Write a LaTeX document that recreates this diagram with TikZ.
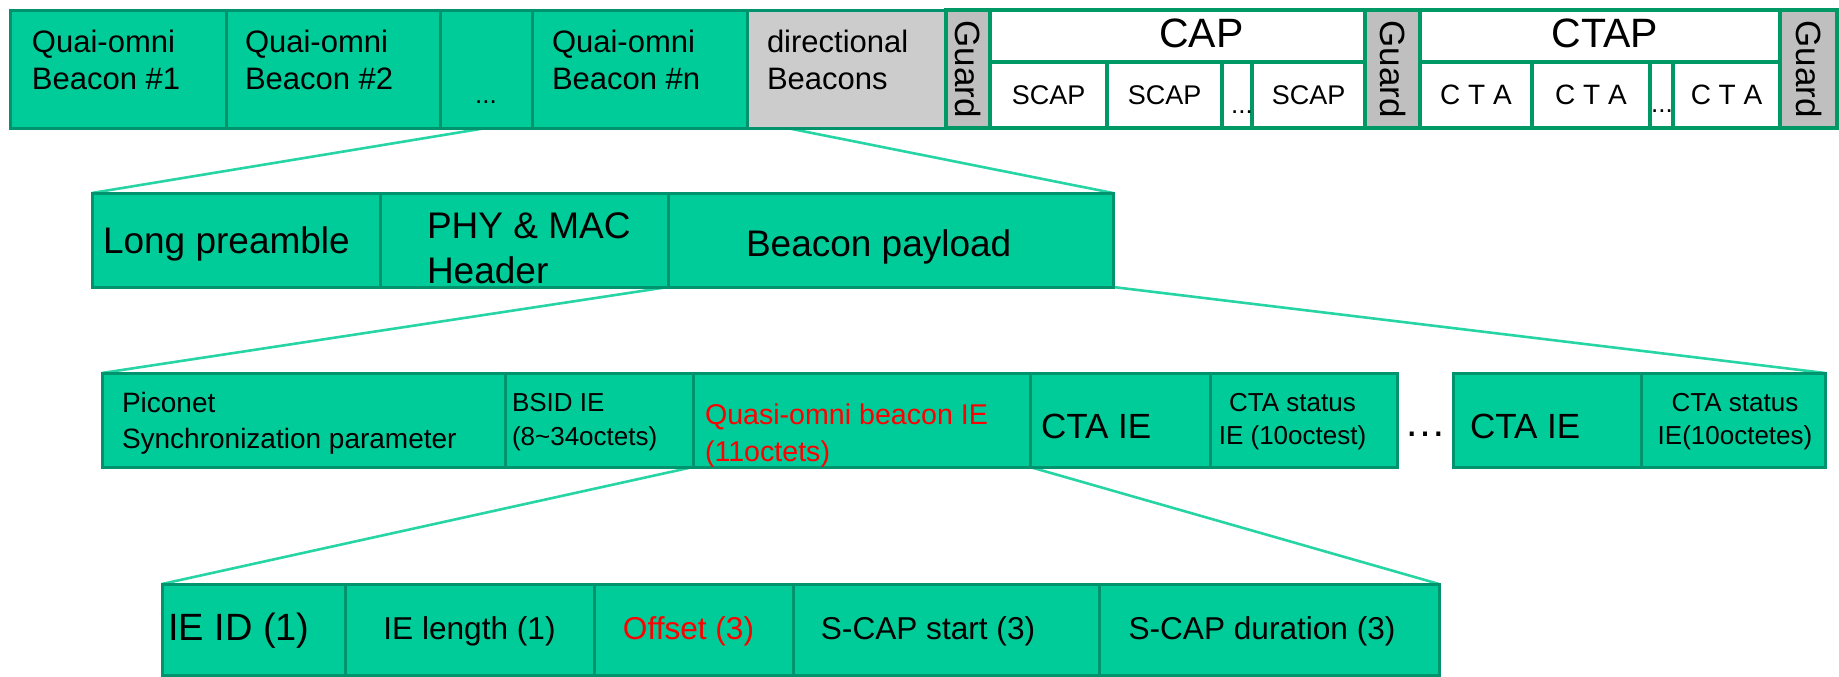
\documentclass[tikz,border=0pt]{standalone}
\usepackage{fontspec}
\setmainfont{Liberation Sans}
\usetikzlibrary{positioning}
\pgfdeclarelayer{background}
\pgfsetlayers{background,main}
\definecolor{boxgreen}{HTML}{00CC99}
\definecolor{edgegreen}{HTML}{00936E}
\definecolor{framegreen}{HTML}{009966}
\definecolor{linkgreen}{HTML}{26D4A4}
\definecolor{guardgrey}{HTML}{BFBFBF}
\definecolor{dirgrey}{HTML}{CCCCCC}
\newcommand{\setfs}[2]{\fontsize{#1}{#2}\selectfont}
\tikzset{
    cell/.style={draw=edgegreen, fill=boxgreen, line width=1.5pt, outer sep=0pt, inner sep=0pt},
    slot/.style={draw=framegreen, fill=white, line width=2pt, outer sep=0pt, inner sep=0pt},
    guardbox/.style={slot, fill=guardgrey, minimum width=#1, minimum height=59pt, font=\setfs{17.5}{20}},
    txt/.style={inner sep=0pt, outer sep=0pt, align=left},
    link/.style={draw=linkgreen, line width=1.3pt},
}

\begin{document}
\begin{tikzpicture}[x=0.5pt, y=-0.5pt]
    \useasboundingbox (0,0) rectangle (1839,676);
    \tikzset{
      top/.style={cell, minimum height=59pt},
      mid/.style={cell, minimum height=47pt},
      low/.style={cell, minimum height=45.5pt}
    }

    % superframe
    \node[top, anchor=north west, minimum width=108pt] (q1) at (10,10) {};
    \node[top, minimum width=107pt, right=0pt of q1] (q2) {};
    \node[top, minimum width=46pt, right=0pt of q2] (qd) {};
    \node[top, minimum width=107.5pt, right=0pt of qd] (qn) {};
    \node[top, fill=dirgrey, minimum width=99.5pt, right=0pt of qn] (dir) {};
    \node[txt, font=\setfs{15.5}{18.5}, anchor=north west] (q1t) at ([shift={(22,20)}]q1.north west) {Quai-omni\\Beacon \#1};
    \node[txt, font=\setfs{15.5}{18.5}, anchor=north west] (q2t) at ([shift={(19,20)}]q2.north west) {Quai-omni\\Beacon \#2};
    \node[txt, font=\setfs{13}{15}, anchor=base] (qdt) at ([shift={(0,-25)}]qd.south) {...};
    \node[txt, font=\setfs{15.5}{18.5}, anchor=north west] (qnt) at ([shift={(20,20)}]qn.north west) {Quai-omni\\Beacon \#n};
    \node[txt, font=\setfs{15.5}{18.5}, anchor=north west] (dirt) at ([shift={(20,20)}]dir.north west) {directional\\Beacons};

    \node[guardbox=22pt, right=0pt of dir] (g1) {\rotatebox{-90}{Guard}};
    \node[slot, anchor=north west, minimum width=187.5pt, minimum height=26pt] (capbox) at (g1.north east) {};
    \node[txt, font=\setfs{20.5}{24}, anchor=base] (capt) at ([shift={(24,11)}]capbox.center) {CAP};
    \node[slot, anchor=north west, minimum width=58.5pt, minimum height=33pt, font=\setfs{13.5}{16}] (s1) at (capbox.south west) {SCAP};
    \node[slot, minimum width=57.5pt, minimum height=33pt, font=\setfs{13.5}{16}, right=0pt of s1] (s2) {SCAP};
    \node[slot, minimum width=56.5pt, minimum height=33pt, font=\setfs{13.5}{16}, right=15pt of s2] (s3) {SCAP};
    \node[txt, font=\setfs{13}{15}, anchor=base] (sdots) at ([shift={(20,-15)}]s2.south east) {...};

    \node[guardbox=27.5pt, anchor=north west] (g2) at (capbox.north east) {\rotatebox{-90}{Guard}};
    \node[slot, anchor=north west, minimum width=180pt, minimum height=26pt] (ctapbox) at (g2.north east) {};
    \node[txt, font=\setfs{20.5}{24}, anchor=base] (ctapt) at ([shift={(5,11)}]ctapbox.center) {CTAP};
    \node[slot, anchor=north west, minimum width=56pt, minimum height=33pt, font=\setfs{14}{16}] (c1) at (ctapbox.south west) {C T A};
    \node[slot, minimum width=59pt, minimum height=33pt, font=\setfs{14}{16}, right=0pt of c1] (c2) {C T A};
    \node[slot, minimum width=53.5pt, minimum height=33pt, font=\setfs{14}{16}, right=11.5pt of c2] (c3) {C T A};
    \node[txt, font=\setfs{13}{15}, anchor=base] (cdots) at ([shift={(12,-16)}]c2.south east) {...};
    \node[guardbox=28.5pt, anchor=north west] (g3) at (ctapbox.north east) {\rotatebox{-90}{Guard}};
    \draw[draw=framegreen, line width=2pt] (g1.north west) rectangle (g3.south east);

    % beacon frame
    \node[mid, anchor=north west, minimum width=144pt] (lp) at (92,193) {};
    \node[mid, minimum width=144pt, right=0pt of lp] (hdr) {};
    \node[mid, minimum width=222.5pt, right=0pt of hdr] (pay) {};
    \node[txt, font=\setfs{18.5}{22.5}, anchor=base west] (lpt) at ([shift={(11,13)}]lp.west) {Long preamble};
    \node[txt, font=\setfs{18.5}{22.5}, anchor=north west] (hdrt) at ([shift={(47,20)}]hdr.north west) {PHY \& MAC\\Header};
    \node[txt, font=\setfs{18.5}{22.5}, anchor=base west] (payt) at ([shift={(78,16)}]pay.west) {Beacon payload};

    % beacon payload
    \node[mid, anchor=north west, minimum width=201.5pt] (p1) at (102,373) {};
    \node[mid, minimum width=94pt, right=0pt of p1] (bs) {};
    \node[mid, minimum width=168.5pt, right=0pt of bs] (qo) {};
    \node[mid, minimum width=90pt, right=0pt of qo] (cta1) {};
    \node[mid, minimum width=93.5pt, right=0pt of cta1] (cs1) {};
    \node[mid, minimum width=94pt, right=28pt of cs1] (cta2) {};
    \node[mid, minimum width=92pt, right=0pt of cta2] (cs2) {};
    \node[txt, font=\setfs{14}{18}, anchor=north west] (p1t) at ([shift={(20,19)}]p1.north west) {Piconet\\Synchronization parameter};
    \node[txt, font=\setfs{13}{17}, anchor=north west] (bst) at ([shift={(7,20)}]bs.north west) {BSID IE\\(8\textasciitilde34octets)};
    \node[txt, font=\setfs{14.3}{18.5}, text=red, anchor=north west] (qot) at ([shift={(12,31)}]qo.north west) {Quasi-omni beacon IE\\(11octets)};
    \node[txt, font=\setfs{17.5}{21}, anchor=base west] (cta1t) at ([shift={(11,18)}]cta1.west) {CTA IE};
    \node[txt, font=\setfs{13}{16.5}, align=center, anchor=north] (cs1t) at ([shift={(-11,20)}]cs1.north) {CTA status\\IE (10octest)};
    \node[txt, font=\setfs{21}{25}, anchor=base] (pdots) at ([shift={(28,16)}]cs1.east) {\textellipsis};
    \node[txt, font=\setfs{17.5}{21}, anchor=base west] (cta2t) at ([shift={(17,18)}]cta2.west) {CTA IE};
    \node[txt, font=\setfs{13}{16.5}, align=center, anchor=north] (cs2t) at ([shift={(2,20)}]cs2.north) {CTA status\\IE(10octetes)};

    % quasi-omni beacon IE
    \node[low, anchor=north west, minimum width=91.5pt] (id) at (162,584) {};
    \node[low, minimum width=124.5pt, right=0pt of id] (len) {};
    \node[low, minimum width=99.5pt, right=0pt of len] (off) {};
    \node[low, minimum width=153pt, right=0pt of off] (st) {};
    \node[low, minimum width=170pt, right=0pt of st] (dur) {};
    \node[txt, font=\setfs{19}{22}, anchor=base west] (idt) at ([shift={(6,11)}]id.west) {IE ID (1)};
    \node[txt, font=\setfs{15.8}{19}, anchor=base] (lent) at ([shift={(0,10)}]len.center) {IE length (1)};
    \node[txt, font=\setfs{15.8}{19}, text=red, anchor=base] (offt) at ([shift={(-5,10)}]off.center) {Offset (3)};
    \node[txt, font=\setfs{15.8}{19}, anchor=base] (stt) at ([shift={(-18,10)}]st.center) {S-CAP start (3)};
    \node[txt, font=\setfs{15.8}{19}, anchor=base] (durt) at ([shift={(-7,10)}]dur.center) {S-CAP duration (3)};

    \begin{pgfonlayer}{background}
      \coordinate (dtap) at ([shift={(40,0)}]dir.south west);
      \draw[link] (qd.south) -- (lp.north west);
      \draw[link] (dtap) -- (pay.north east);
      \draw[link] (hdr.south east) -- (p1.north west);
      \draw[link] (pay.south east) -- (cs2.north east);
      \draw[link] (qo.south west) -- (id.north west);
      \draw[link] (qo.south east) -- (dur.north east);
    \end{pgfonlayer}
\end{tikzpicture}
\end{document}
